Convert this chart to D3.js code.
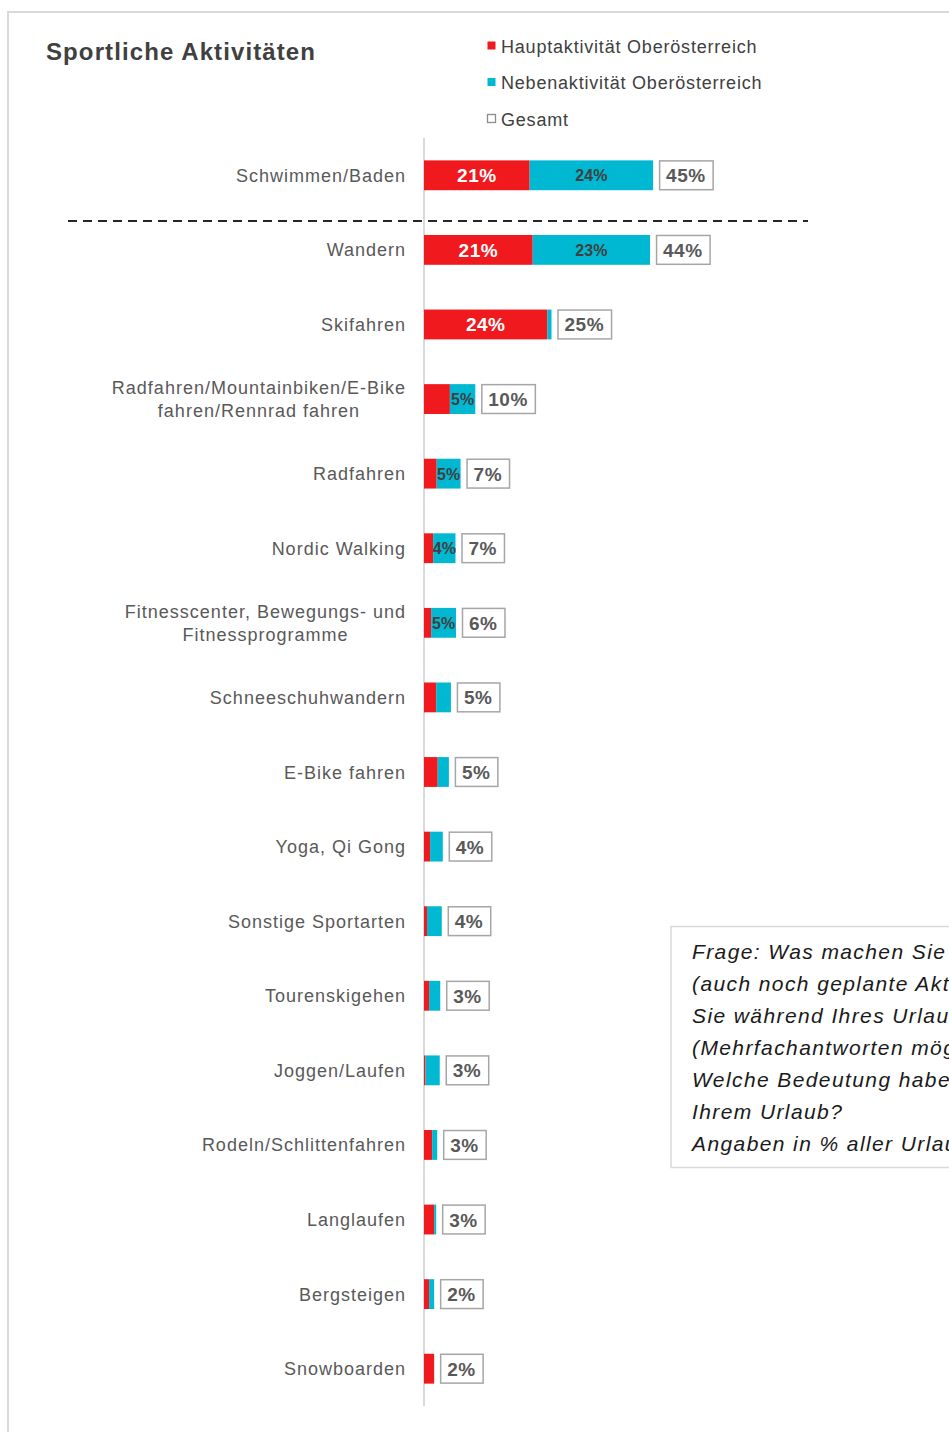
<!DOCTYPE html>
<html><head><meta charset="utf-8">
<script src="https://cdn.jsdelivr.net/npm/d3@7"></script>
<style>
html,body{margin:0;padding:0;background:#fff;overflow:hidden;}
svg{display:block;font-family:"Liberation Sans",Arial,sans-serif;}
</style></head>
<body><svg id="c" width="949" height="1432"></svg>
<script>
const categories = ["Schwimmen/Baden","Wandern","Skifahren","Radfahren/Mountainbiken/E-Bike|fahren/Rennrad fahren","Radfahren","Nordic Walking","Fitnesscenter, Bewegungs- und|Fitnessprogramme","Schneeschuhwandern","E-Bike fahren","Yoga, Qi Gong","Sonstige Sportarten","Tourenskigehen","Joggen/Laufen","Rodeln/Schlittenfahren","Langlaufen","Bergsteigen","Snowboarden"];
const haupt  = [20.8, 21.4, 24.3, 5.1, 2.5, 1.8, 1.4, 2.4, 2.7, 1.2, 0.6, 1.0, 0.3, 1.6, 2.0, 1.0, 2.0];
const neben  = [24.3, 23.1, 0.8, 5.0, 4.7, 4.4, 4.9, 2.9, 2.2, 2.5, 2.9, 2.2, 2.8, 1.0, 0.4, 1.0, 0.0];
const gesamt = [45, 44, 25, 10, 7, 7, 6, 5, 5, 4, 4, 3, 3, 3, 3, 2, 2];
const legendLabels = ["Hauptaktivität Oberösterreich","Nebenaktivität Oberösterreich","Gesamt"];
const noteLines = ["Frage: Was machen Sie","(auch noch geplante Aktivitäten)","Sie während Ihres Urlaubs","(Mehrfachantworten möglich)","Welche Bedeutung haben","Ihrem Urlaub?","Angaben in % aller Urlauber"];

const RED = "#f01a1e", CYAN = "#00b8d2", TXT = "#595959", DARK = "#404040";
const svg = d3.select("#c");

// outer frame
svg.append("rect").attr("x",8).attr("y",12).attr("width",1000).attr("height",1500)
  .attr("fill","none").attr("stroke","#d9d9d9").attr("stroke-width",2);

// title
svg.append("text").attr("x",46).attr("y",60).attr("font-size",24).attr("font-weight","bold")
  .attr("letter-spacing",1.1).attr("fill",DARK).text("Sportliche Aktivitäten");

// legend
const legColors = [RED, CYAN, "none"];
legendLabels.forEach((l,i)=>{
  const cy = 46 + i*36.5;
  svg.append("rect").attr("x",487.5).attr("y",cy-4.5).attr("width",8).attr("height",8)
    .attr("fill", i<2 ? legColors[i] : "#fff").attr("stroke", i<2 ? "none" : "#8c8c8c").attr("stroke-width",1.3);
  svg.append("text").attr("x",501).attr("y",cy+6.5).attr("font-size",18).attr("letter-spacing",0.8)
    .attr("fill",DARK).text(l);
});

const x = d3.scaleLinear().domain([0,45]).range([424, 424+45*5.08]);
const y = d3.scaleBand().domain(d3.range(categories.length)).range([138,1406]).paddingInner(0.6).paddingOuter(0.3);

// axis line
svg.append("line").attr("x1",x(0)).attr("x2",x(0)).attr("y1",138).attr("y2",1406)
  .attr("stroke","#d9d9d9").attr("stroke-width",2);

// dashed separator
const sepY = (y(0)+y.bandwidth()/2 + y(1)+y.bandwidth()/2)/2 + 8.5;
svg.append("line").attr("x1",68).attr("x2",808).attr("y1",sepY).attr("y2",sepY)
  .attr("stroke","#262626").attr("stroke-width",2).attr("stroke-dasharray","9,6");

// category labels
categories.forEach((c,i)=>{
  const lines = c.split("|");
  const cy = y(i)+y.bandwidth()/2;
  const g = svg.append("g");
  const lh = 23;
  const texts = lines.map((ln,j)=> g.append("text").attr("y", cy + 6.5 + (j-(lines.length-1)/2)*lh)
      .attr("font-size",18).attr("letter-spacing",1).attr("fill",TXT).text(ln));
  const widths = texts.map(t=>t.node().getComputedTextLength());
  const maxW = d3.max(widths);
  const right = 406;
  if (lines.length===1) texts[0].attr("x",right).attr("text-anchor","end");
  else texts.forEach(t=>t.attr("x", right - maxW/2).attr("text-anchor","middle"));
});

// bars
const rows = categories.map((c,i)=>({i, h:haupt[i], n:neben[i], g:gesamt[i]}));
const bw = y.bandwidth();
svg.selectAll("rect.h").data(rows).join("rect").attr("class","h")
  .attr("x",x(0)).attr("y",d=>y(d.i)).attr("height",bw)
  .attr("width",d=>x(d.h)-x(0)).attr("fill",RED);
svg.selectAll("rect.n").data(rows).join("rect").attr("class","n")
  .attr("x",d=>x(d.h)).attr("y",d=>y(d.i)).attr("height",bw)
  .attr("width",d=>x(d.h+d.n)-x(d.h)).attr("fill",CYAN);

// segment labels
rows.forEach(d=>{
  const cy = y(d.i)+bw/2;
  if (d.h>=10) svg.append("text").attr("x",(x(0)+x(d.h))/2).attr("y",cy+7)
    .attr("text-anchor","middle").attr("font-size",19).attr("font-weight","bold").attr("letter-spacing",0.5)
    .attr("fill","#fff").text(Math.round(d.h)+"%");
  if (d.n>=4) svg.append("text").attr("x",(x(d.h)+x(d.h+d.n))/2).attr("y",cy+6)
    .attr("text-anchor","middle").attr("font-size",16).attr("font-weight","bold").attr("fill",DARK)
    .text(Math.round(d.n)+"%");
});

// total boxes
rows.forEach(d=>{
  const cy = y(d.i)+bw/2;
  const bx = x(d.h+d.n)+6.5;
  const g = svg.append("g");
  const r = g.append("rect");
  const t = g.append("text").attr("x",bx+6.5).attr("y",cy+7).attr("font-size",19).attr("font-weight","bold")
    .attr("letter-spacing",0.5).attr("fill",TXT).text(d.g+"%");
  const w = t.node().getComputedTextLength();
  r.attr("x",bx).attr("y",cy-bw/2+0.5).attr("width",w+14).attr("height",bw-1)
    .attr("fill","#fff").attr("stroke","#a6a6a6").attr("stroke-width",1.5);
});

// note box
svg.append("rect").attr("x",671).attr("y",926.5).attr("width",400).attr("height",241)
  .attr("fill","#fff").attr("stroke","#d9d9d9").attr("stroke-width",1.5);
noteLines.forEach((l,i)=>{
  svg.append("text").attr("x",692).attr("y",959+i*32).attr("font-size",21).attr("font-style","italic")
    .attr("letter-spacing",1.4).attr("fill","#1a1a1a").text(l);
});
</script></body></html>
